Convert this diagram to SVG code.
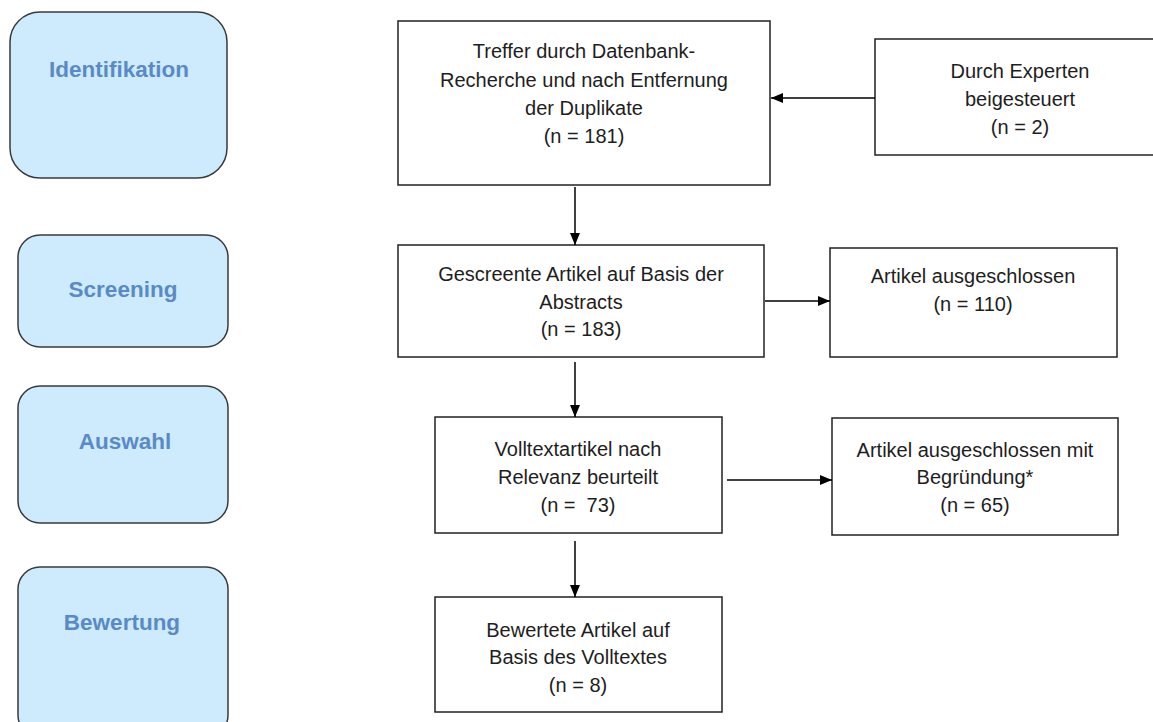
<svg xmlns="http://www.w3.org/2000/svg" width="1153" height="722" viewBox="0 0 1153 722">
<style>
.phase rect{fill:#cdebfd;stroke:#3a3a3a;stroke-width:1.5}
.phase text{font-family:"Liberation Sans",Arial,sans-serif;font-weight:bold;font-size:22.5px;fill:#5a8ac6;text-anchor:middle}
.box rect{fill:#fff;stroke:#222;stroke-width:1.5}
.box text{font-family:"Liberation Sans",Arial,sans-serif;font-size:20px;fill:#1e1e1e;text-anchor:middle}
.conn line{stroke:#000;stroke-width:1.5;marker-end:url(#ah)}
</style>
<defs>
<marker id="ah" viewBox="0 0 12 10" refX="12" refY="5" markerWidth="12" markerHeight="10" markerUnits="userSpaceOnUse" orient="auto"><path d="M0,0 L12,5 L0,10 z" fill="#000"/></marker>
</defs>
<rect width="1153" height="722" fill="#fff"/>
<g id="phase-identifikation" class="phase"><rect x="10" y="12" width="217" height="166" rx="30"/><text x="119" y="77">Identifikation</text></g>
<g id="phase-screening" class="phase"><rect x="18" y="235" width="210" height="112" rx="22"/><text x="123" y="297">Screening</text></g>
<g id="phase-auswahl" class="phase"><rect x="18" y="386" width="210" height="137" rx="22"/><text x="125" y="449">Auswahl</text></g>
<g id="phase-bewertung" class="phase"><rect x="18" y="567" width="210" height="170" rx="22"/><text x="122" y="630">Bewertung</text></g>

<g id="n-treffer" class="box"><rect x="398" y="21" width="372" height="164"/>
<text x="584" y="58">Treffer durch Datenbank-</text><text x="584" y="87">Recherche und nach Entfernung</text><text x="584" y="115">der Duplikate</text><text x="584" y="143">(n = 181)</text></g>
<g id="n-experten" class="box"><rect x="875" y="39" width="282" height="116"/>
<text x="1020" y="78">Durch Experten</text><text x="1020" y="106">beigesteuert</text><text x="1020" y="134">(n = 2)</text></g>
<g id="n-gescreent" class="box"><rect x="398" y="245" width="366" height="112"/>
<text x="581" y="281">Gescreente Artikel auf Basis der</text><text x="581" y="309">Abstracts</text><text x="581" y="336">(n = 183)</text></g>
<g id="n-ausgeschlossen" class="box"><rect x="830" y="248" width="287" height="109"/>
<text x="973" y="283">Artikel ausgeschlossen</text><text x="973" y="311">(n = 110)</text></g>
<g id="n-volltext" class="box"><rect x="435" y="417" width="287" height="116"/>
<text x="578" y="456">Volltextartikel nach</text><text x="578" y="484">Relevanz beurteilt</text><text x="578" y="512">(n =&#160; 73)</text></g>
<g id="n-begruendung" class="box"><rect x="832" y="418" width="286" height="117"/>
<text x="975" y="457">Artikel ausgeschlossen mit</text><text x="975" y="484">Begründung*</text><text x="975" y="512">(n = 65)</text></g>
<g id="n-bewertet" class="box"><rect x="435" y="597" width="287" height="115"/>
<text x="578" y="637">Bewertete Artikel auf</text><text x="578" y="664">Basis des Volltextes</text><text x="578" y="692">(n = 8)</text></g>

<g id="connectors" class="conn">
<line x1="875" y1="98" x2="771" y2="98"/>
<line x1="575" y1="187" x2="575" y2="245"/>
<line x1="765" y1="301" x2="830" y2="301"/>
<line x1="575" y1="362" x2="575" y2="417"/>
<line x1="727" y1="480" x2="832" y2="480"/>
<line x1="575" y1="541" x2="575" y2="597"/>
</g>
</svg>
